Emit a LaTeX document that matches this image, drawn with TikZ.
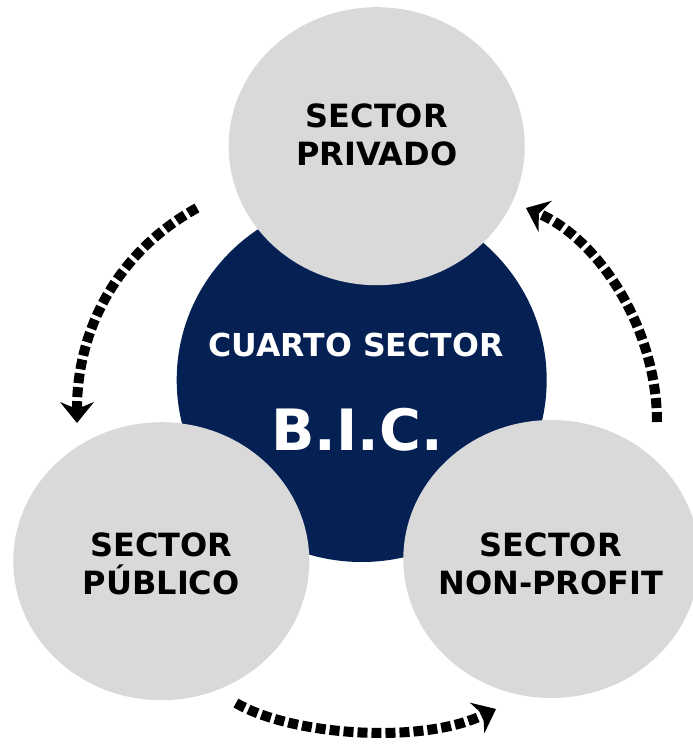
\documentclass[tikz,border=0pt]{standalone}
\usepackage{fontspec}
\setmainfont{DejaVu Sans}
\usepackage{xcolor}
\usetikzlibrary{                          % TikZ libraries
                shapes,                   % .
                arrows.meta,              % .
                calc}
\definecolor{bicblue}{RGB}{5,33,84}
\definecolor{secgray}{RGB}{217,217,217}

\begin{document}
\begin{tikzpicture}[x=1pt,y=-1pt
                    ]
                % define styles
\tikzset{sector/.style={ellipse,
                       draw=none,
                       fill=secgray,
                       inner sep=0,
                       minimum width=296pt,
                       minimum height=278pt,
                       },
         cuarto/.style={ellipse,
                       draw=none,
                       fill=bicblue,
                       inner sep=0,
                       minimum width=370pt,
                       minimum height=364pt,
                       },
         sectxt/.style={align=center,
                       inner sep=0,
                       font=\bfseries\fontsize{32}{38}\selectfont,
                       },
         dotflow/.style={line width=10pt,
                       dash pattern=on 10pt off 4pt,
                       -{Stealth[length=21pt,width=34pt,inset=7pt,line width=0pt]},
                       }
}

\useasboundingbox (0,0) rectangle (693,750);

% nodes
\node[cuarto] (bic) at (361.7,380) {};
\foreach \name/\px/\py in {priv/376.7/146.2, publ/161.3/561.2, nonp/551.3/559}
    \node[sector] (\name) at (\px,\py) {};

% labels
\node[text=white,inner sep=0,font=\bfseries\fontsize{31.6}{36}\selectfont] (bic-a) at (356,345) {CUARTO SECTOR};
\node[text=white,inner sep=0,font=\bfseries\fontsize{57}{60}\selectfont] (bic-b) at (357,430) {B.I.C.};
\node[sectxt] (priv-t) at (376.7,135.3) {SECTOR\\PRIVADO};
\node[sectxt] (publ-t) at (161.2,564) {SECTOR\\PÚBLICO};
\node[sectxt] (nonp-t) at (550.8,564) {SECTOR\\NON-PROFIT};

% arrow ends
\coordinate (priv-out) at (197,208);
\coordinate (publ-in)  at (77,423);
\coordinate (publ-out) at (236,703);
\coordinate (nonp-in)  at (496,709);
\coordinate (nonp-out) at (657,422);
\coordinate (priv-in)  at (526,208);

% arrows
\draw[dotflow] (priv-out) .. controls (117,252) and (77,330) .. (publ-in);
\draw[dotflow] (publ-out) .. controls (290,735) and (420,745) .. (nonp-in);
\draw[dotflow] (nonp-out) .. controls (657,330) and (600,240) .. (priv-in);

\end{tikzpicture}
\end{document}
